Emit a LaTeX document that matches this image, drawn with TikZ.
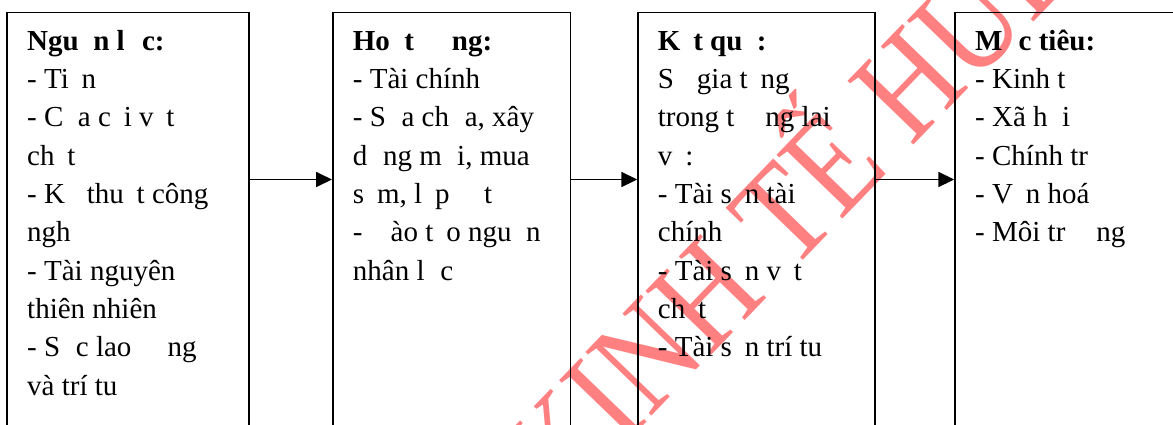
\documentclass[tikz,border=0pt]{standalone}
\usepackage{fontspec}
\setmainfont{Liberation Serif}
\usetikzlibrary{arrows.meta}
\begin{document}
\begin{tikzpicture}[x=1pt,y=-1pt,
  box/.style={draw=black, line width=1.8pt, anchor=north west, inner sep=0pt, minimum height=500pt},
  txt/.style={anchor=north west, inner sep=0pt, align=left, font=\fontsize{29}{38.33}\selectfont},
  arr/.style={line width=1.8pt, -{Triangle[length=16pt,width=15pt]}},
  wm/.style={text=red!50, inner sep=0pt, font=\fontsize{140}{140}\selectfont}]
\useasboundingbox (0,0) rectangle (1173,424);
\clip (0,0) rectangle (1173,424);
% watermark
\node[wm, rotate=46, xscale=0.85] (wm) at (778,198) {KINH TẾ HUẾ};
% boxes
\node[box, minimum width=242pt] (b1) at (6,11.5) {};
\node[box, minimum width=237.5pt] (b2) at (332,11.5) {};
\node[box, minimum width=236.7pt] (b3) at (637.3,11.5) {};
\node[box, minimum width=400pt] (b4) at (954.3,11.5) {};
% arrows
\draw[arr] ([yshift=-168pt]b1.north east) -- ([yshift=-168pt]b2.north west);
\draw[arr] ([yshift=-168pt]b2.north east) -- ([yshift=-168pt]b3.north west);
\draw[arr] ([yshift=-168pt]b3.north east) -- ([yshift=-168pt]b4.north west);
% texts
\node[txt] (t1) at (27,23.2) {\strut\textbf{Ngu\phantom{ồ}n l\phantom{ự}c:}\\
- Ti\phantom{ề}n\\
- C\phantom{ủ}a c\phantom{ả}i v\phantom{ậ}t\\
ch\phantom{ấ}t\\
- K\phantom{ỹ} thu\phantom{ậ}t công\\
ngh\phantom{ệ}\\
- Tài nguyên\\
thiên nhiên\\
- S\phantom{ứ}c lao \phantom{độ}ng\\
và trí tu\phantom{ệ}};
\node[txt] (t2) at (352.7,23.2) {\strut\textbf{Ho\phantom{ạ}t \phantom{độ}ng:}\\
- Tài chính\\
- S\phantom{ử}a ch\phantom{ữ}a, xây\\
d\phantom{ự}ng m\phantom{ớ}i, mua\\
s\phantom{ắ}m, l\phantom{ắ}p \phantom{đặ}t\\
- \phantom{Đ}ào t\phantom{ạ}o ngu\phantom{ồ}n\\
nhân l\phantom{ự}c};
\node[txt] (t3) at (657.7,23.2) {\strut\textbf{K\phantom{ế}t qu\phantom{ả}:}\\
S\phantom{ự} gia t\phantom{ă}ng\\
trong t\phantom{ươ}ng lai\\
v\phantom{ề}:\\
- Tài s\phantom{ả}n tài\\
chính\\
- Tài s\phantom{ả}n v\phantom{ậ}t\\
ch\phantom{ấ}t\\
- Tài s\phantom{ả}n trí tu\phantom{ệ}};
\node[txt] (t4) at (975,23.2) {\strut\textbf{M\phantom{ụ}c tiêu:}\\
- Kinh t\phantom{ế}\\
- Xã h\phantom{ộ}i\\
- Chính tr\phantom{ị}\\
- V\phantom{ă}n hoá\\
- Môi tr\phantom{ườ}ng};
\end{tikzpicture}
\end{document}
